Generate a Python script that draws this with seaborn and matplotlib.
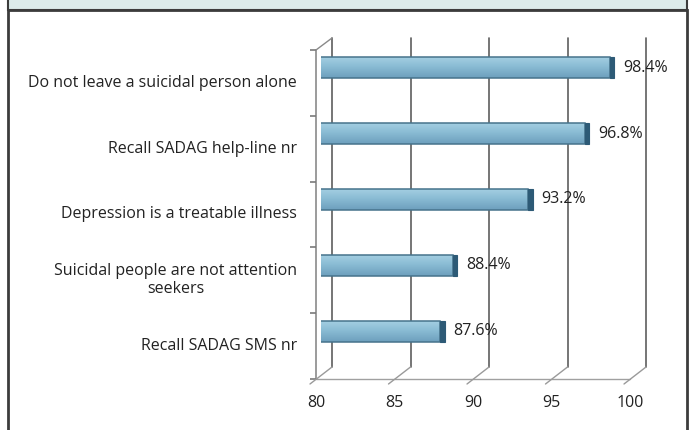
import matplotlib
matplotlib.use('Agg')
import matplotlib.pyplot as plt
import matplotlib.transforms as mtransforms
from matplotlib.colors import LinearSegmentedColormap
from matplotlib.patches import Rectangle
import numpy as np
import pandas as pd
import seaborn as sns

items = ['Do not leave a suicidal person alone',
         'Recall SADAG help-line nr',
         'Depression is a treatable illness',
         'Suicidal people are not attention\nseekers',
         'Recall SADAG SMS nr']
values = [98.4, 96.8, 93.2, 88.4, 87.6]
x_ticks = [80, 85, 90, 95, 100]

sns.set_style('white')
plt.rcParams['font.family'] = ['Open Sans', 'DejaVu Sans']

W, H = 690, 430
fig = plt.figure(figsize=(6.9, 4.3), dpi=100)
# axes = plane in which the bars sit
ax = fig.add_axes([321 / W, 1 - 364 / H, (635 - 321) / W, (364 - 35) / H])

df = pd.DataFrame({'item': items, 'pct': values})
sns.barplot(data=df, x='pct', y='item', orient='h', color='#7fb1cd', width=0.32,
            saturation=1, edgecolor='#46738c', linewidth=1.1, ax=ax)
ax.set_xlim(80, 100)
ax.set_ylim(4.5, -0.5)
ax.set_xticks([])
ax.set_yticks([])
ax.set_xlabel('')
ax.set_ylabel('')
sns.despine(ax=ax, left=True, bottom=True)
ax.patch.set_alpha(0)


def shifted(dx, dy):
    return ax.transData + mtransforms.ScaledTranslation(dx / 100, -dy / 100, fig.dpi_scale_trans)


front = shifted(-5, 15)
back = shifted(11, 3)

# back wall gridlines
for t in x_ticks:
    ax.plot([t, t], [4.5, -0.5], transform=back, color='#5e5e5e', lw=1.2,
            clip_on=False, zorder=0.5)

# floor and left wall diagonals
for t in x_ticks:
    ax.annotate('', xy=(t, 4.5), xycoords=back, xytext=(-22, -17), textcoords='offset pixels',
                arrowprops=dict(arrowstyle='-', shrinkA=0, shrinkB=0, color='#9a9a9a', lw=1))
ax.annotate('', xy=(80, -0.5), xycoords=back, xytext=(-16, -12), textcoords='offset pixels',
            arrowprops=dict(arrowstyle='-', shrinkA=0, shrinkB=0, color='#8a8a8a', lw=1))

# front floor line and left axis
ax.plot([80, 100], [4.5, 4.5], transform=front, color='#a0a0a0', lw=1, clip_on=False, zorder=0.6)
ax.plot([80, 80], [4.5, -0.5], transform=front, color='#8a8a8a', lw=1.2, clip_on=False, zorder=0.6)
ax.plot([80] * 6, np.arange(-0.5, 5), ls='none', marker=0, ms=4, mew=1.2, color='#7a7a7a',
        transform=front, clip_on=False)

# bar shading, side faces and value labels
shade = LinearSegmentedColormap.from_list('bar', ['#a6d0e3', '#88bad3', '#6d9fbd'])
grad = np.linspace(0, 1, 64).reshape(-1, 1)
for p in list(ax.patches):
    x0, y0, w, h = p.get_x(), p.get_y(), p.get_width(), p.get_height()
    im = ax.imshow(grad, cmap=shade, aspect='auto', extent=(max(x0, 80), x0 + w, y0 + h, y0),
                   zorder=p.get_zorder() + 0.1)
    im.set_clip_path(p)
    p.set_facecolor('none')
    p.set_zorder(p.get_zorder() + 0.2)
    ax.add_patch(Rectangle((x0 + w, y0), 0.28, h, facecolor='#2d5a76',
                           edgecolor='#2d5a76', lw=0.8, zorder=p.get_zorder()))
ax.set_xlim(80, 100)
ax.set_ylim(4.5, -0.5)
ax.set_aspect('auto')

for i, v in enumerate(values):
    ax.annotate(f'{v}%', xy=(v, i), xycoords='data', xytext=(13, 0), textcoords='offset pixels',
                ha='left', va='center', fontsize=11.5, color='#222222')

# category and x tick labels on the front plane
for i, name in enumerate(items):
    ax.annotate(name, xy=(80, i), xycoords=front, xytext=(-19, 0), textcoords='offset pixels',
                ha='right', va='center', multialignment='center', fontsize=11.5, color='#222222',
                linespacing=1.2)
for t in x_ticks:
    ax.annotate(str(t), xy=(t, 4.5), xycoords=front, xytext=(0, -16), textcoords='offset pixels',
                ha='center', va='top', fontsize=11.5, color='#222222')

# panel frame and header strip
fig.add_artist(Rectangle((8 / W, -0.02), (687 - 8) / W, 1.02 - 10 / H, transform=fig.transFigure,
                         fill=False, edgecolor='#3c3c3c', lw=2))
fig.add_artist(Rectangle((8 / W, 1 - 10 / H), (687 - 8) / W, 0.05, transform=fig.transFigure,
                         facecolor='#dcebea', edgecolor='#3c3c3c', lw=1.5))

fig.savefig('out.png', dpi=100)
